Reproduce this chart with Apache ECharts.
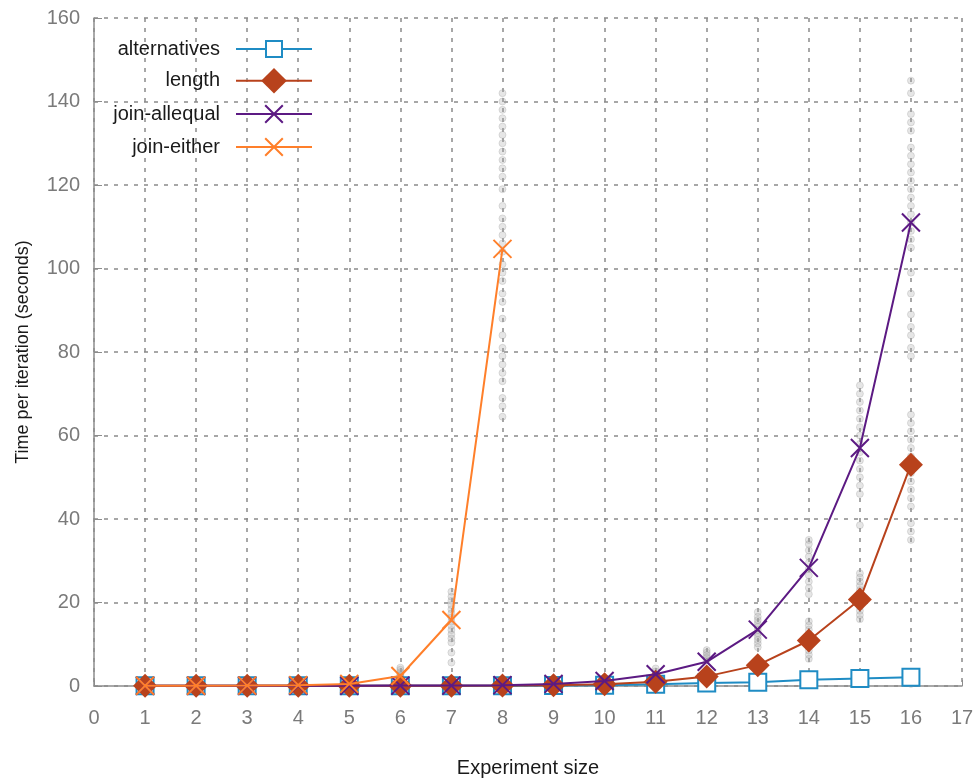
<!DOCTYPE html>
<html>
<head>
<meta charset="utf-8">
<script src="https://cdn.jsdelivr.net/npm/echarts@6/dist/echarts.min.js"></script>
<style>html,body{margin:0;padding:0;background:#fff}#c{width:974px;height:779px}</style>
</head>
<body>
<div id="c"></div>
<script>
var sizes = [1,2,3,4,5,6,7,8,9,10,11,12,13,14,15,16];
var alternatives = [0.05,0.05,0.05,0.05,0.05,0.05,0.05,0.05,0.1,0.2,0.4,0.7,0.9,1.5,1.8,2.1];
var lengthVals = [0.05,0.05,0.05,0.05,0.05,0.05,0.05,0.1,0.2,0.4,1.0,2.3,5.0,10.9,20.7,53.0];
var joinAllequal = [0.05,0.05,0.05,0.05,0.05,0.1,0.1,0.2,0.5,1.2,2.8,5.8,13.5,28.3,57.0,111.0];
var joinEither = [0.05,0.05,0.1,0.2,0.5,2.4,15.8,104.7];
var eitherSizes = [1,2,3,4,5,6,7,8];

var sampleSizes = [6,7,8,9,10,11,12,13,14,15,16];
var sampleTimes = [
  [1.2,1.8,2.2,2.5,2.8,3.3,3.9,4.4],
  [5.6,8.0,10.4,11.4,12.4,13.4,14.4,15.4,16.4,17.4,18.4,19.4,20.4,21.4,22.6],
  [64.5,67,69,73,75,77,79,81,84,88,92,94,97,99,101,104,106,108,110,112,115,119,122,124,126,128,130,132,134,136,138,140,142],
  [0.2,0.4,0.6,0.8,1.0],
  [0.3,0.6,1.0,1.3,1.6,2.0],
  [0.5,1.2,2.0,2.8,3.5,4.2],
  [0.5,1.0,1.5,2.0,2.5,6.2,6.8,7.4,8.0,8.6],
  [0.5,1.0,1.5,2.0,2.5,3.0,9.3,10.2,11.0,11.8,12.6,13.4,14.2,15.0,15.8,16.6,17.7],
  [0.5,1.0,1.5,2.0,2.5,6.5,7.5,8.5,9.5,10.5,11.5,12.5,13.5,14.5,15.5,22,23.5,25,26.5,28,29.5,31,32.5,34,35],
  [0.5,1.0,1.5,2.0,2.5,16,17,18,19,20,21,22,23,24,25,26,27,38.5,46,48,50,52,54,56,58,60,62,64,66,68,70,72],
  [0.5,1.0,1.5,2.0,2.5,3.0,35,37,39,43,45,47,49,51,53,55,57,59,61,63,65,79,81,84,86,89,94,99,105,107,109,111,113,115,117,119,121,123,125,127,129,133,135,137,142,145]
];
var xTicks = [0,17,1];
var yTicks = [0,160,20];

var seriesNames = ['alternatives','length','join-allequal','join-either'];
var colors = ['#1f8cc4','#b8421c','#5c1a83','#ff7f2a'];

function zip(xs, ys){ return ys.map(function(y,i){ return [xs[i], y]; }); }
var samplePts = [];
sampleSizes.forEach(function(s, i){ sampleTimes[i].forEach(function(v){ samplePts.push([s, v]); }); });

var crossPath = 'path://M0,0L10,10M10,0L0,10';
var font = 'Liberation Sans, Arial, sans-serif';

var chart = echarts.init(document.getElementById('c'), null, {renderer:'canvas'});

function legendFor(name, top, ih){
  return {
    data:[name], orient:'vertical', right:661, top:top, padding:0,
    align:'right', itemWidth:76, itemHeight:ih,
    textStyle:{fontSize:20, color:'#1a1a1a', fontFamily:font, padding:[0,11,0,0]},
    selectedMode:false
  };
}

chart.setOption({
  animation:false,
  backgroundColor:'#fff',
  grid:{left:94, right:12, top:18, bottom:93, outerBoundsMode:'none', containLabel:false},
  legend:[
    legendFor('alternatives', 39, 20),
    legendFor('length', 68, 32),
    legendFor('join-allequal', 104, 22),
    legendFor('join-either', 137, 22)
  ],
  xAxis:{
    type:'value', min:xTicks[0], max:xTicks[1], interval:xTicks[2],
    name:'Experiment size', nameLocation:'middle', nameGap:72,
    nameTextStyle:{fontSize:20, color:'#1a1a1a', fontFamily:font},
    axisLine:{show:true, onZero:false, lineStyle:{color:'#8c8c8c', width:1.5}},
    axisTick:{show:true, inside:true, length:6, lineStyle:{color:'#8c8c8c'}},
    axisLabel:{fontSize:20, color:'#7a7a7a', margin:22, fontFamily:font},
    splitLine:{show:true, lineStyle:{color:'#8a8a8a', type:[4,6], width:1.5}}
  },
  yAxis:{
    type:'value', min:yTicks[0], max:yTicks[1], interval:yTicks[2],
    name:'Time per iteration (seconds)', nameLocation:'middle', nameGap:62,
    nameTextStyle:{fontSize:18, color:'#1a1a1a', fontFamily:font},
    axisLine:{show:true, lineStyle:{color:'#8c8c8c', width:1.5}},
    axisTick:{show:true, inside:true, length:8, lineStyle:{color:'#8c8c8c'}},
    axisLabel:{fontSize:20, color:'#7a7a7a', margin:14, fontFamily:font},
    splitLine:{show:true, lineStyle:{color:'#8a8a8a', type:[4,6], width:1.5}}
  },
  series:[
    {
      name:'samples', type:'scatter', data:samplePts, symbol:'circle', symbolSize:7, z:1,
      itemStyle:{color:'rgba(165,165,165,0.35)', borderColor:'rgba(150,150,150,0.35)', borderWidth:1},
      silent:true
    },
    {
      name:seriesNames[0], type:'line', data:zip(sizes, alternatives), z:2,
      symbol:'emptyRect', symbolSize:17, color:colors[0],
      lineStyle:{width:2, color:colors[0]},
      itemStyle:{color:colors[0], borderColor:colors[0], borderWidth:2}
    },
    {
      name:seriesNames[1], type:'line', data:zip(sizes, lengthVals), z:3,
      symbol:'diamond', symbolSize:24, color:colors[1],
      lineStyle:{width:2, color:colors[1]},
      itemStyle:{color:colors[1]}
    },
    {
      name:seriesNames[2], type:'line', data:zip(sizes, joinAllequal), z:4,
      symbol:crossPath, symbolSize:18, color:colors[2],
      lineStyle:{width:2, color:colors[2]},
      itemStyle:{color:colors[2], borderColor:colors[2], borderWidth:2}
    },
    {
      name:seriesNames[3], type:'line', data:zip(eitherSizes, joinEither), z:5,
      symbol:crossPath, symbolSize:18, color:colors[3],
      lineStyle:{width:2, color:colors[3]},
      itemStyle:{color:colors[3], borderColor:colors[3], borderWidth:2}
    }
  ]
});
</script>
</body>
</html>
